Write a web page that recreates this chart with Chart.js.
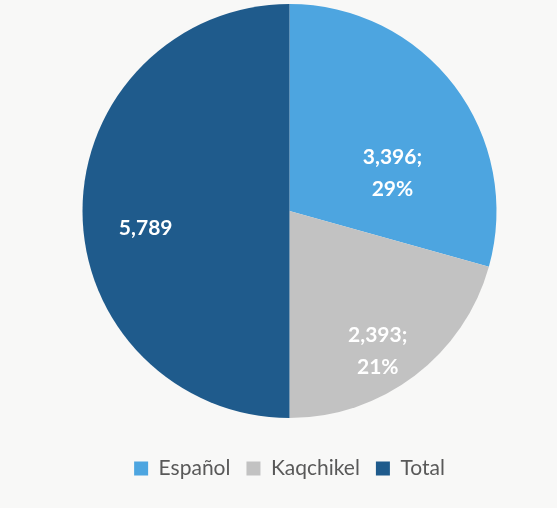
<!DOCTYPE html>
<html>
<head>
<meta charset="utf-8">
<script src="https://cdn.jsdelivr.net/npm/chart.js@4/dist/chart.umd.min.js"></script>
<style>
  body { margin: 0; background: #f8f8f7; }
  #wrap { width: 557px; height: 508px; }
</style>
</head>
<body>
<div id="wrap"><canvas id="pieChart"></canvas></div>
<script>
const categories = ['Español', 'Kaqchikel', 'Total'];
const values = [3396, 2393, 5789];
const labelTexts = [['3,396;', '29%'], ['2,393;', '21%'], ['5,789']];
const colors = ['#4da5e0', '#c2c2c2', '#1f5b8c'];

// label placement per slice: angle shift (deg) and radius fraction
const labelPlace = [
    { shift: 17, frac: 0.53 },
    { shift: 5, frac: 0.80 },
    { shift: -7, frac: 0.70 }
];

const sliceLabels = {
    id: 'sliceLabels',
    afterDatasetsDraw(chart) {
        const ctx = chart.ctx;
        const meta = chart.getDatasetMeta(0);
        ctx.save();
        ctx.fillStyle = '#ffffff';
        ctx.font = 'bold 21px Lato';
        ctx.textAlign = 'center';
        ctx.textBaseline = 'middle';
        meta.data.forEach((arc, i) => {
            const p = arc.getProps(['x', 'y', 'startAngle', 'endAngle', 'outerRadius'], true);
            const mid = (p.startAngle + p.endAngle) / 2 + labelPlace[i].shift * Math.PI / 180;
            const r = p.outerRadius * labelPlace[i].frac;
            const x = p.x + Math.cos(mid) * r;
            const y = p.y + Math.sin(mid) * r;
            const lines = labelTexts[i];
            const lh = 32;
            lines.forEach((t, j) => {
                ctx.fillText(t, x, y + (j - (lines.length - 1) / 2) * lh);
            });
        });
        ctx.restore();
    }
};

new Chart(document.getElementById('pieChart'), {
    type: 'pie',
    data: {
        labels: categories,
        datasets: [{
            data: values,
            backgroundColor: colors,
            borderWidth: 0
        }]
    },
    options: {
        responsive: true,
        maintainAspectRatio: false,
        animation: false,
        layout: { padding: { top: 4, bottom: 19, left: 22, right: 0 } },
        plugins: {
            legend: {
                position: 'bottom',
                title: {
                    display: true,
                    text: ' ',
                    font: { size: 10, lineHeight: 1 },
                    padding: { top: 14, bottom: 0 }
                },
                labels: {
                    color: '#595959',
                    font: { family: 'Lato', size: 21 },
                    boxWidth: 14,
                    boxHeight: 14,
                    padding: 16
                }
            },
            tooltip: { enabled: false }
        }
    },
    plugins: [sliceLabels]
});
</script>
</body>
</html>
